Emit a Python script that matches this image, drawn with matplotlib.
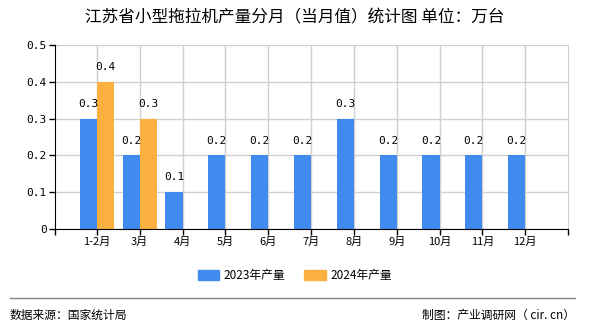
import matplotlib

matplotlib.use("Agg")

import matplotlib.pyplot as plt
from matplotlib.lines import Line2D
from matplotlib.patches import Patch

plt.rcParams["font.family"] = ["Noto Sans CJK SC", "DejaVu Sans"]

months = ["1-2月", "3月", "4月", "5月", "6月", "7月", "8月", "9月", "10月", "11月", "12月"]
values_2023 = [0.3, 0.2, 0.1, 0.2, 0.2, 0.2, 0.3, 0.2, 0.2, 0.2, 0.2]
values_2024 = [0.4, 0.3]
y_ticks = [0, 0.1, 0.2, 0.3, 0.4, 0.5]
y_labels = ["0", "0.1", "0.2", "0.3", "0.4", "0.5"]

BLUE = "#418BEE"
ORANGE = "#FBB03F"
width = 0.4

fig = plt.figure(figsize=(5.9, 3.3), dpi=100)
ax = fig.add_axes([0.0932, 0.306, 0.8695, 0.5576])

x = list(range(len(months)))
ax.bar([i - width / 2 for i in x], values_2023, width, color=BLUE, zorder=3)
ax.bar([i + width / 2 for i in range(len(values_2024))], values_2024, width,
       color=ORANGE, zorder=3)

for i, v in enumerate(values_2023):
    ax.annotate(f"{v:.1f}", (i - width / 2, v), xytext=(0, 7),
                textcoords="offset points", ha="center", va="bottom",
                fontsize=8, family="DejaVu Sans Mono")
for i, v in enumerate(values_2024):
    ax.annotate(f"{v:.1f}", (i + width / 2, v), xytext=(0, 7),
                textcoords="offset points", ha="center", va="bottom",
                fontsize=8, family="DejaVu Sans Mono")

ax.set_xlim(-0.98, 11)
ax.set_ylim(0, 0.5)
ax.set_xticks(x)
ax.set_xticklabels(months, fontsize=8)
ax.set_xticks([-0.98, 11], minor=True)
ax.tick_params(axis="x", which="both", length=4, width=1, color="black", pad=2)
ax.set_yticks(y_ticks)
ax.set_yticklabels(y_labels, fontsize=8, family="DejaVu Sans Mono")
ax.tick_params(axis="y", length=4, width=1, pad=2)

ax.grid(True, color="#d0d0d0", linewidth=1, zorder=0)
ax.set_axisbelow(True)
ax.spines["top"].set_visible(False)
ax.spines["right"].set_color("#d0d0d0")
ax.spines["left"].set_color("black")
ax.spines["bottom"].set_color("black")
ax.spines["bottom"].set_zorder(4)

fig.text(0.5, 0.945, "江苏省小型拖拉机产量分月（当月值）统计图 单位：万台",
         ha="center", va="center", fontsize=12)

handles = [Patch(color=BLUE), Patch(color=ORANGE)]
fig.legend(handles, ["2023年产量", "2024年产量"], loc="center",
           bbox_to_anchor=(0.5, 0.165), ncol=2, frameon=False, fontsize=8.5,
           handlelength=1.8, handleheight=0.9, columnspacing=1.6,
           handletextpad=0.4)

fig.add_artist(Line2D([0.017, 0.975], [0.097, 0.097], color="#888888",
                      linewidth=1))
fig.text(0.017, 0.045, "数据来源：国家统计局", ha="left", va="center", fontsize=8.5)
fig.text(0.975, 0.045, "制图：产业调研网（ cir. cn）", ha="right", va="center",
         fontsize=8.5)

fig.savefig("out.png", dpi=100)
plt.close(fig)
